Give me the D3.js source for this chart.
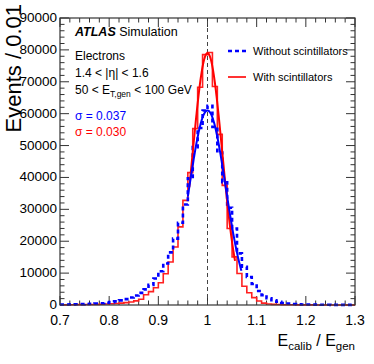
<!DOCTYPE html>
<html><head><meta charset="utf-8">
<script src="https://cdn.jsdelivr.net/npm/d3@7"></script>
<style>body{margin:0;background:#fff}svg{display:block}text{font-family:"Liberation Sans",Arial,Helvetica,sans-serif}</style>
</head><body><div id="c"></div>
<script>
// ---- data ----
const binEdgesStart = 0.70;
const binWidth = 0.01;
const withoutScint = [150,170,200,230,270,320,380,450,550,700,900,1150,1450,1850,2350,3000,3800,4900,6300,8300,10600,13000,16500,20800,25800,31500,39700,49500,55500,61000,62500,55800,47800,38500,30500,24000,16200,12000,8800,6600,4400,3100,2100,1500,1000,650,450,320,240,180,140,110,90,70,60,50,40,30,30,20];
const withScint = [80,90,100,110,130,150,170,200,250,300,380,480,600,750,950,1300,1800,3200,4200,5400,7000,9800,13500,18200,24500,32800,41500,55300,68300,78500,79200,68500,53500,37500,24000,15100,9900,5900,3850,2300,1250,600,300,200,150,100,80,60,50,40,30,30,20,20,20,10,10,10,10,10];
const fitWithout = [61000, 1.0, 0.037, 0.960, 1.069]; // amplitude, mean, sigma, range lo, range hi
const fitWith = [79000, 1.0, 0.030, 0.963, 1.056];
const xTicks = [0.7,0.8,0.9,1,1.1,1.2,1.3];
const yTicks = [0,10000,20000,30000,40000,50000,60000,70000,80000,90000];
const legendLabels = ["Without scintillators","With scintillators"];

const W=374,H=364;
const L=60,R=355,T=18,B=305;
const svg=d3.select("#c").append("svg").attr("width",W).attr("height",H);
const x=d3.scaleLinear().domain([0.7,1.3]).range([L,R]);
const y=d3.scaleLinear().domain([0,90000]).range([B,T]);

// minor / major ticks
const axCol="#333";
const g=svg.append("g");
const xMinor=d3.range(0,31).map(i=>0.7+i*0.02);
const yMinor=d3.range(0,46).map(i=>i*2000);
function tick(x1,y1,x2,y2){g.append("line").attr("x1",x1).attr("y1",y1).attr("x2",x2).attr("y2",y2).attr("stroke",axCol).attr("stroke-width",1);}
xMinor.forEach((v,i)=>{const maj=i%5===0;const len=maj?9:4.5;const px=x(v);tick(px,B,px,B-len);tick(px,T,px,T+len);});
yMinor.forEach((v,i)=>{const maj=i%5===0;const len=maj?9:4.5;const py=y(v);tick(L,py,L+len,py);tick(R,py,R-len,py);});

// vertical dashed at 1
svg.append("line").attr("x1",x(1)).attr("x2",x(1)).attr("y1",B).attr("y2",T).attr("stroke","#444").attr("stroke-width",1).attr("stroke-dasharray","4,3");

function histPts(vals){const pts=vals.map((v,i)=>[binEdgesStart+i*binWidth,v]);pts.push([binEdgesStart+vals.length*binWidth,vals[vals.length-1]]);return pts;}
const stepLine=d3.line().x(d=>x(d[0])).y(d=>y(d[1])).curve(d3.curveStepAfter);
svg.append("path").attr("d",stepLine(histPts(withScint))).attr("fill","none").attr("stroke","#ff2020").attr("stroke-width",1.6);
svg.append("path").attr("d",stepLine(histPts(withoutScint))).attr("fill","none").attr("stroke","#0000ff").attr("stroke-width",2.6).attr("stroke-dasharray","4,3");

function gaussPts(f){const [A,m,s,lo,hi]=f;return d3.range(0,101).map(i=>{const xv=lo+(hi-lo)*i/100;return [xv,A*Math.exp(-0.5*((xv-m)/s)**2)];});}
const smooth=d3.line().x(d=>x(d[0])).y(d=>y(d[1]));
svg.append("path").attr("d",smooth(gaussPts(fitWith))).attr("fill","none").attr("stroke","#ff0000").attr("stroke-width",2);
svg.append("path").attr("d",smooth(gaussPts(fitWithout))).attr("fill","none").attr("stroke","#0000ff").attr("stroke-width",2);

// frame
svg.append("rect").attr("x",L).attr("y",T).attr("width",R-L).attr("height",B-T).attr("fill","none").attr("stroke",axCol).attr("stroke-width",1.2);

// tick labels
xTicks.forEach(v=>svg.append("text").attr("x",x(v)).attr("y",325).attr("text-anchor","middle").attr("font-size",14).attr("fill","#000").text(d3.format("")(v)));
yTicks.forEach(v=>svg.append("text").attr("x",57).attr("y",y(v)+4).attr("text-anchor","end").attr("font-size",13.5).attr("fill","#000").text(v));

// axis titles
const xt=svg.append("text").attr("x",355).attr("y",346).attr("text-anchor","end").attr("font-size",16);
xt.append("tspan").text("E");
xt.append("tspan").attr("font-size",11.5).attr("dy",4).text("calib");
xt.append("tspan").attr("dy",-4).text(" / E");
xt.append("tspan").attr("font-size",11.5).attr("dy",4).text("gen");
svg.append("text").attr("transform","translate(20.5,4) rotate(-90)").attr("text-anchor","end").attr("font-size",22).text("Events / 0.01");

// labels
const lx=75;
const at=svg.append("text").attr("x",lx).attr("y",36).attr("font-size",12.5);
at.append("tspan").attr("font-weight","bold").attr("font-style","italic").text("ATLAS");
at.append("tspan").text(" Simulation");
svg.append("text").attr("x",lx).attr("y",60).attr("font-size",12).text("Electrons");
svg.append("text").attr("x",lx).attr("y",77).attr("font-size",12).text("1.4 < |η| < 1.6");
const et=svg.append("text").attr("x",lx).attr("y",94).attr("font-size",12);
et.append("tspan").text("50 < E");
et.append("tspan").attr("font-size",8.5).attr("dy",3).text("T,gen");
et.append("tspan").attr("dy",-3).text(" < 100 GeV");
svg.append("text").attr("x",lx).attr("y",120).attr("font-size",12).attr("fill","#0000ff").text("σ = 0.037");
svg.append("text").attr("x",lx).attr("y",136).attr("font-size",12).attr("fill","#ff0000").text("σ = 0.030");

// legend
svg.append("line").attr("x1",228).attr("x2",246).attr("y1",51).attr("y2",51).attr("stroke","#0000ff").attr("stroke-width",2.6).attr("stroke-dasharray","4,3");
svg.append("line").attr("x1",228).attr("x2",246).attr("y1",77).attr("y2",77).attr("stroke","#ff0000").attr("stroke-width",1.6);
svg.append("text").attr("x",253).attr("y",55).attr("font-size",11).text(legendLabels[0]);
svg.append("text").attr("x",253).attr("y",81).attr("font-size",11).text(legendLabels[1]);
</script></body></html>
